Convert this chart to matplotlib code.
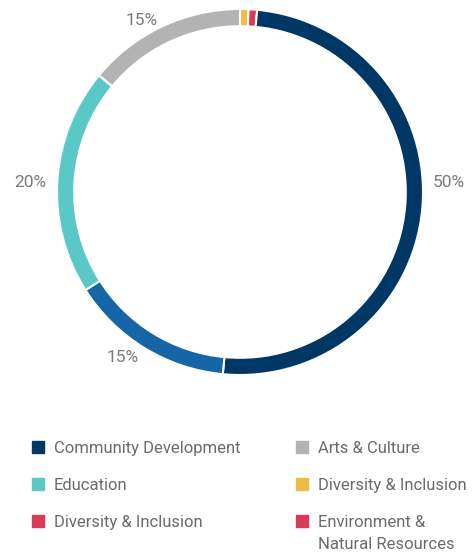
import numpy as np
import matplotlib
matplotlib.use("Agg")
import matplotlib.pyplot as plt
from matplotlib.patches import Rectangle

plt.rcParams["font.family"] = ["Roboto", "DejaVu Sans"]

# slices, clockwise from 12 o'clock
slice_values = [0.75, 0.75, 50, 14.5, 20, 14]
slice_colors = ["#ecbd48", "#d93a55", "#003865", "#1565a7", "#5bc8c8", "#b3b3b3"]
slice_labels = ["", "", "50%", "15%", "20%", "15%"]

# legend, row by row
legend_names = ["Community Development", "Arts & Culture",
                "Education", "Diversity & Inclusion",
                "Diversity & Inclusion", "Environment &\nNatural Resources"]
legend_colors = ["#003865", "#b3b3b3", "#5bc8c8", "#ecbd48", "#d93a55", "#d93a55"]

fig = plt.figure(figsize=(4.73, 5.53), dpi=100)
ax = fig.add_axes([57 / 473, 178 / 553, 366 / 473, 366 / 553])

wedges, texts = ax.pie(slice_values, colors=slice_colors, labels=slice_labels,
                       startangle=90, counterclock=False, radius=1,
                       labeldistance=1.06,
                       wedgeprops=dict(width=0.094, edgecolor="white", linewidth=1.5),
                       textprops=dict(fontsize=12.5, color="#7a7a7a"))
# side labels sit just above the horizontal
texts[2].set_y(0.05)
texts[4].set_y(0.05)
texts[5].set_y(texts[5].get_position()[1] - 0.02)
ax.set_xlim(-1, 1)
ax.set_ylim(-1, 1)
ax.set_aspect("equal")
ax.axis("off")

# legend
col_x = [32, 296]
row_y = [447, 484, 521]
for i, (name, col) in enumerate(zip(legend_names, legend_colors)):
    x = col_x[i % 2]
    y = row_y[i // 2]
    fig.patches.append(Rectangle((x / 473, 1 - (y + 6) / 553), 12 / 473, 12 / 553,
                                 transform=fig.transFigure, color=col))
    fig.text((x + 22) / 473, 1 - (y - 6) / 553, name, fontsize=12, color="#6b6b6b",
             ha="left", va="top", linespacing=1.6)

fig.savefig("out.png", dpi=100)
